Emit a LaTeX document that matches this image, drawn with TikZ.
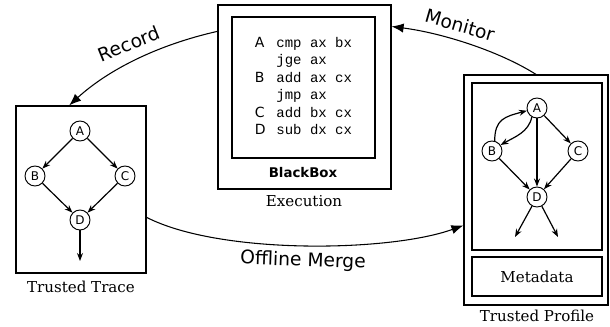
\documentclass[tikz,border=0pt]{standalone}
\usepackage{fontspec}
\setmainfont{DejaVu Serif}
\setsansfont{DejaVu Sans}
\setmonofont{Liberation Mono}
\usetikzlibrary{positioning,arrows.meta}

\begin{document}
\begin{tikzpicture}[x=0.75pt,y=-0.75pt,on grid,
            box/.style={draw,rectangle,line width=0.9pt,inner sep=0pt},
            main node/.style={circle,draw,fill=white,line width=0.7pt,inner sep=0pt,minimum size=15pt,font=\sffamily\fontsize{9}{10}\selectfont},
            link/.style={-{Stealth[length=6pt,width=4.5pt]},line width=0.9pt},
            flow/.style={-{Latex[length=9pt,width=7pt]},line width=0.8pt},
            flow label/.style={font=\sffamily\fontsize{14}{16}\selectfont},
            caption/.style={font=\fontsize{11.3}{13}\selectfont}]

        \useasboundingbox (0,0) rectangle (610,326);

        % BlackBox
        \node[box,minimum width=129.75pt,minimum height=138pt] (bbox) at (304.5,97) {};
        \node[box,minimum width=107.25pt,minimum height=105.75pt] (bin) at (303.5,87.5) {};
        \node[inner sep=0pt,font=\fontsize{10.5}{13.1}\selectfont] (code) at (bin) {%
            \begin{tabular}{@{}l@{\hspace{8pt}}l@{}}
            \sffamily A & \ttfamily cmp ax bx\\
                        & \ttfamily jge ax\\
            \sffamily B & \ttfamily add ax cx\\
                        & \ttfamily jmp ax\\
            \sffamily C & \ttfamily add bx cx\\
            \sffamily D & \ttfamily sub dx cx
            \end{tabular}};
        \node[font=\sffamily\bfseries\fontsize{10}{12}\selectfont] (bblabel) at (303,173) {BlackBox};
        \node[caption] (exec) at (304,201) {Execution};

        % Trusted trace
        \node[box,minimum width=97.5pt,minimum height=125.25pt] (trace) at (81,189.5) {};
        \node[caption] (tracecap) at (81,287) {Trusted Trace};
        \node[main node] (tA) at (80,131) {A};
        \node[main node] (tB) [below left=33.75pt and 33.75pt of tA] {B};
        \node[main node] (tC) [below right=33.75pt and 33.75pt of tA] {C};
        \node[main node] (tD) [below=66.75pt of tA] {D};
        \coordinate[below=30.75pt of tD] (tE);

        \path[link]
            (tA) edge (tB)
            (tA) edge (tC)
            (tB) edge (tD)
            (tC) edge (tD)
            (tD) edge (tE);

        % Trusted profile
        \node[box,minimum width=108pt,minimum height=172.5pt] (profile) at (536,190) {};
        \node[box,minimum width=97.5pt,minimum height=125.25pt] (pin) at (537,166.5) {};
        \node[box,minimum width=97.5pt,minimum height=29.25pt,caption] (meta) at (537,276.5) {Metadata};
        \node[caption] (profcap) at (537,316) {Trusted Profile};
        \node[main node] (pA) at (537,108) {A};
        \node[main node] (pB) [below left=32.25pt and 33.75pt of pA] {B};
        \node[main node] (pC) [below right=32.25pt and 30.75pt of pA] {C};
        \node[main node] (pD) [below=66.75pt of pA] {D};
        \coordinate[below left=30pt and 16.5pt of pD] (pE1);
        \coordinate[below right=30pt and 15.75pt of pD] (pE2);

        \path[link]
            (pA) edge (pC)
            (pA) edge (pD)
            (pB) edge (pD)
            (pC) edge (pD)
            (pD) edge (pE1)
            (pD) edge (pE2);
        \draw[link] (pB.75) .. controls +(0,-22) and +(-22,6) .. (pA.195);
        \draw[link] (pA.240) .. controls +(-3,15) and +(14,-8) .. (pB.35);

        % Flows between boxes
        \draw[flow] (bbox.143) .. controls (157,45) and (108,70) .. (trace.98);
        \node[flow label,rotate=22] (rec) at (129,44) {Record};
        \draw[flow] (profile.north) .. controls (499,51) and (442,33) .. (bbox.39);
        \node[flow label,rotate=-16] (mon) at (460,25) {Monitor};
        \draw[flow] (trace.-23) .. controls (220,255) and (390,252) .. (profile.206);
        \node[flow label,rotate=-2] (merge) at (303,261) {Offline Merge};

\end{tikzpicture}
\end{document}
